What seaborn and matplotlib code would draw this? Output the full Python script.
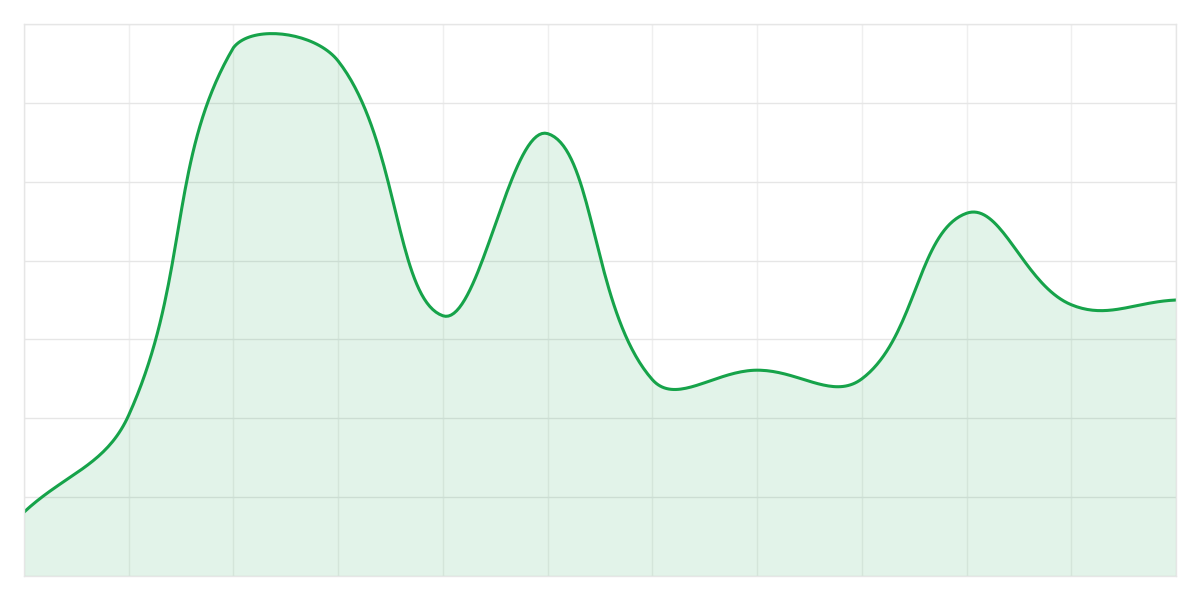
import numpy as np
import pandas as pd
import matplotlib
matplotlib.use("Agg")
import matplotlib.pyplot as plt
import seaborn as sns

# 12 points (y axis 0-70, grid every 10)
x_idx = list(range(12))
values = [8.1, 20.4, 67.0, 65.3, 33.0, 56.1, 24.9, 26.1, 25.0, 46.0, 34.4, 35.0]

LINE = "#16a34a"
GRID = "#e6e6e6"

sns.set_theme(style="white")
plt.rcParams["font.family"] = ["DejaVu Sans"]

W, H = 1200, 600
L, T, R, B = 24, 24, 1176, 576
YMAX = 70
XMAX = len(values) - 1


def to_px(x, y):
    return L + x * (R - L) / XMAX, B - y * (B - T) / YMAX


def from_px(px, py):
    return (px - L) * XMAX / (R - L), (B - py) * YMAX / (B - T)


def smooth(xs, ys, tension=0.4, n=40):
    # cubic bezier through points, control points like a chart.js spline
    pts = np.array([to_px(x, y) for x, y in zip(xs, ys)])
    cp_prev = pts.copy()
    cp_next = pts.copy()
    for i in range(len(pts)):
        p0 = pts[i - 1] if i > 0 else pts[i]
        p1 = pts[i]
        p2 = pts[i + 1] if i < len(pts) - 1 else pts[i]
        d01 = np.hypot(*(p1 - p0))
        d12 = np.hypot(*(p2 - p1))
        tot = d01 + d12
        s01 = d01 / tot if tot else 0
        s12 = d12 / tot if tot else 0
        cp_prev[i] = p1 - tension * s01 * (p2 - p0)
        cp_next[i] = p1 + tension * s12 * (p2 - p0)
    cp_prev[:, 1] = np.clip(cp_prev[:, 1], T, B)
    cp_next[:, 1] = np.clip(cp_next[:, 1], T, B)
    t = np.linspace(0, 1, n)[:, None]
    out = []
    for i in range(len(pts) - 1):
        a, b, c, d = pts[i], cp_next[i], cp_prev[i + 1], pts[i + 1]
        seg = ((1 - t) ** 3) * a + 3 * ((1 - t) ** 2) * t * b + 3 * (1 - t) * t ** 2 * c + t ** 3 * d
        out.append(seg if i == 0 else seg[1:])
    out = np.vstack(out)
    return from_px(out[:, 0], out[:, 1])


sx, sy = smooth(x_idx, values)
curve = pd.DataFrame({"x": sx, "y": sy})

fig = plt.figure(figsize=(W / 100, H / 100), dpi=100)
ax = fig.add_axes([L / W, 1 - B / H, (R - L) / W, (B - T) / H])

ax.fill_between(curve["x"], curve["y"], 0, color=LINE, alpha=0.12, linewidth=0)
sns.lineplot(data=curve, x="x", y="y", sort=False, color=LINE, linewidth=2.2, ax=ax)

ax.set_xlim(0, XMAX)
ax.set_ylim(0, YMAX)
ax.set_xticks(x_idx)
ax.set_yticks(range(0, YMAX + 1, 10))
ax.grid(True, axis="y", color=GRID, linewidth=1)
ax.grid(True, axis="x", color="#efefef", linewidth=1)
ax.set_axisbelow(True)
ax.tick_params(length=0, labelbottom=False, labelleft=False)
ax.set_xlabel("")
ax.set_ylabel("")
for s in ax.spines.values():
    s.set_color(GRID)
    s.set_linewidth(1)

fig.savefig("out.png", dpi=100)
plt.close(fig)
